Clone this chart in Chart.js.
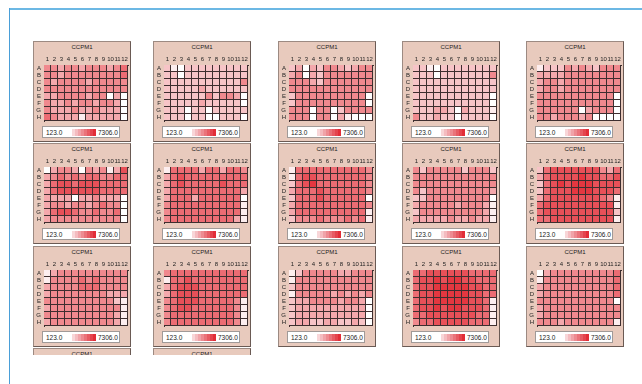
<!DOCTYPE html>
<html>
<head>
<meta charset="utf-8">
<script src="https://cdn.jsdelivr.net/npm/chart.js@4.4.1/dist/chart.umd.min.js"></script>
<style>
  html, body { margin: 0; padding: 0; background: #fff; }
  body { width: 642px; height: 384px; position: relative; overflow: hidden; font-family: 'Liberation Sans', Arial, sans-serif; }
  #frameTop { position: absolute; left: 9px; top: 8px; width: 633px; height: 2px; background: #6cb8e4; }
  #frameLeft { position: absolute; left: 9px; top: 8px; width: 1px; height: 376px; background: #4a9fd8; }
  #wrap { position: absolute; left: 0; top: 0; width: 642px; height: 355px; overflow: hidden; }
  .plate { position: absolute; width: 98px; height: 101px; box-sizing: border-box; background: #e8cabd;
           border: 1px solid #9c8a82; border-right-color: #6a5a54; border-bottom-color: #6a5a54; }
  .ttl { position: absolute; left: 0; right: 0; top: 1px; text-align: center; font-size: 6px; color: #222; line-height: 8px; }
  .plate canvas { position: absolute; left: 1px; top: 12px; }
  .lg { position: absolute; left: 8px; top: 84px; width: 78px; height: 12px; box-sizing: border-box; background: #fff;
        border: 1px solid #a09a98; font-size: 6.5px; color: #222; }
  .lg span { position: absolute; top: 2px; line-height: 7px; }
  .lg .lo { left: 3px; }
  .lg .hi { left: 55px; }
  .lg i { position: absolute; left: 23px; top: 2px; width: 30px; height: 7px;
          background: linear-gradient(to right,
            #ffffff 0 20%, #f8d6d8 20% 30%, #f4bcc0 30% 40%, #f0a3a8 40% 50%, #ed8b91 50% 60%,
            #ea737a 60% 70%, #e75b63 70% 80%, #e4444d 80% 90%, #e22d37 90% 100%); }
</style>
</head>
<body>
<div id="frameTop"></div>
<div id="frameLeft"></div>
<div id="wrap"></div>
<script>
const plateTitle = 'CCPM1';
const colLabels = ['1', '2', '3', '4', '5', '6', '7', '8', '9', '10', '11', '12'];
const rowLabels = ['A', 'B', 'C', 'D', 'E', 'F', 'G', 'H'];
const scaleMin = 123.0;
const scaleMax = 7306.0;

// plate readings, rows A..H, columns 1..12
const plate01 = [
  [3900,3900,2900,3900,3900,2900,3900,3900,3900,2900,3900,4800],
  [3900,3900,2900,3900,3900,3900,3900,3900,3900,3900,3900,4800],
  [3900,2900,3900,3900,3900,3900,2900,3900,3900,3900,3900,3900],
  [3900,3900,3900,3900,3900,3900,3900,3900,3900,3900,3900,3900],
  [2900,2900,3900,3900,3900,3900,2900,3900,3900,123,2900,123],
  [3900,2900,2900,3900,2900,3900,3900,2900,3900,3900,2900,123],
  [3900,2900,2900,2900,3900,2900,2900,3900,2900,2900,2900,123],
  [4800,3900,2900,2900,2900,650,2900,2900,2900,2900,2900,123]
];
const plate02 = [
  [2000,650,123,2000,2000,2000,2000,2000,2000,2000,2000,2000],
  [2000,2000,123,2000,2000,2000,2000,2000,2000,2000,2000,2000],
  [2000,2000,2000,2000,2000,2000,2000,2000,2000,2000,2000,3900],
  [2000,2000,2000,2000,2000,2900,2000,2000,2000,2000,2000,2000],
  [2000,2000,2000,2000,2000,2000,3900,2000,3900,3900,2900,123],
  [2000,2000,2000,2000,2000,2900,2000,2000,2000,2000,2000,123],
  [2000,2000,2000,123,2000,2000,123,2000,2000,2000,2000,2000],
  [2000,2000,2000,123,2000,2000,123,123,2000,2000,2000,123]
];
const plate03 = [
  [2000,2900,123,2900,2000,3900,3900,2900,2000,2900,3900,3900],
  [2900,3900,123,2900,2000,3900,3900,3900,3900,3900,3900,3900],
  [3900,3900,3900,2900,2000,3900,3900,3900,3900,3900,3900,3900],
  [3900,3900,3900,3900,3900,3900,3900,3900,3900,3900,3900,3900],
  [2000,3900,3900,3900,3900,3900,3900,3900,3900,3900,3900,123],
  [2000,3900,3900,3900,3900,3900,3900,3900,3900,3900,3900,123],
  [3900,3900,3900,123,3900,3900,123,2000,3900,3900,3900,3900],
  [3900,3900,3900,123,3900,3900,123,2900,650,123,123,123]
];
const plate04 = [
  [2000,2000,650,123,2000,2000,2000,2000,2000,2000,2000,2000],
  [2000,2000,2000,123,2000,2000,2000,2000,2000,2000,2000,3900],
  [2000,2000,2000,2000,2000,2000,2000,2000,2000,2000,2000,2000],
  [2000,2000,2000,2000,2000,2000,2000,2000,2000,2000,2000,2000],
  [2000,2000,2000,2000,2000,2000,2000,2000,2000,2000,2000,123],
  [2000,2000,2000,2000,2000,2000,2000,2000,2000,2000,2000,123],
  [2000,2000,2000,2900,2900,2000,123,2900,2000,2000,2000,650],
  [3900,2000,2000,2900,2000,2000,123,2000,2000,2000,2000,123]
];
const plate05 = [
  [650,2000,2000,2000,3900,2900,3900,2900,2000,3900,3900,3900],
  [2900,2900,2900,2900,3900,3900,3900,3900,3900,3900,3900,3900],
  [2900,3900,3900,2900,3900,3900,3900,3900,3900,3900,3900,3900],
  [2900,3900,3900,2900,3900,3900,3900,3900,3900,3900,3900,3900],
  [3900,3900,3900,3900,3900,3900,3900,3900,3900,3900,3900,123],
  [3900,3900,3900,3900,3900,3900,3900,3900,3900,3900,3900,123],
  [3900,3900,3900,3900,3900,3900,123,2900,3900,3900,3900,123],
  [3900,3900,2900,3900,3900,3900,2900,3900,123,123,123,123]
];
const plate06 = [
  [123,2900,3900,3900,2900,123,3900,2900,3900,650,2900,5700],
  [2900,3900,4800,3900,4800,3900,4800,4800,3900,3900,4800,4800],
  [2900,4800,5700,5700,4800,5700,5700,5700,4800,4800,4800,4800],
  [2900,4800,5700,5700,5700,5700,5700,5700,4800,4800,4800,4800],
  [2900,2900,2900,2900,123,2900,2900,3900,2900,2900,2900,123],
  [2900,3900,3900,2900,3900,3900,2900,3900,4800,3900,3900,123],
  [2900,4800,5700,5700,4800,3900,3900,4800,3900,3900,4800,123],
  [2900,3900,3900,3900,3900,3900,3900,3900,3900,3900,3900,123]
];
const plate07 = [
  [650,4800,4800,4800,4800,2900,4800,4800,2900,4800,4800,3900],
  [2900,4800,5700,4800,4800,4800,4800,4800,4800,4800,4800,4800],
  [2900,4800,5700,4800,4800,4800,4800,4800,5700,4800,4800,4800],
  [2900,4800,4800,4800,4800,4800,4800,4800,4800,4800,4800,2900],
  [2900,4800,4800,4800,2900,4800,4800,4800,4800,4800,4800,123],
  [3900,4800,4800,4800,4800,4800,4800,4800,4800,4800,4800,650],
  [3900,4800,4800,4800,4800,4800,4800,4800,4800,4800,4800,650],
  [3900,4800,4800,4800,4800,4800,4800,4800,4800,4800,2900,650]
];
const plate08 = [
  [650,4800,4800,4800,4800,4800,4800,4800,4800,4800,4800,3900],
  [650,4800,5700,5700,4800,4800,4800,4800,4800,4800,4800,3900],
  [2000,4800,5700,6500,4800,4800,4800,4800,4800,4800,4800,3900],
  [2900,4800,4800,4800,5700,4800,4800,4800,4800,4800,4800,3900],
  [2000,4800,4800,4800,5700,4800,4800,4800,4800,4800,4800,123],
  [2900,4800,4800,4800,4800,4800,4800,4800,4800,4800,4800,3900],
  [2900,4800,4800,4800,4800,4800,4800,4800,4800,4800,4800,650],
  [2000,3900,3900,3900,4800,3900,3900,3900,4800,3900,4800,650]
];
const plate09 = [
  [3900,2000,3900,3900,3900,3900,3900,2000,3900,3900,3900,2000],
  [3900,3900,3900,3900,3900,3900,3900,3900,3900,3900,3900,3900],
  [3900,3900,3900,3900,3900,3900,3900,3900,3900,3900,3900,3900],
  [3900,2000,3900,3900,3900,3900,3900,3900,3900,3900,3900,2900],
  [2000,2000,3900,3900,3900,3900,3900,3900,3900,3900,3900,123],
  [2900,3900,3900,3900,3900,3900,2900,3900,3900,3900,2900,650],
  [2000,3900,3900,3900,3900,3900,3900,3900,3900,3900,2900,650],
  [2900,2900,2900,2900,2900,3900,2900,2900,3900,2900,2900,650]
];
const plate10 = [
  [2000,4800,5700,5700,5700,5700,5700,5700,5700,3900,2900,4800],
  [2900,4800,5700,5700,5700,5700,6500,5700,5700,4800,4800,5700],
  [2000,4800,5700,6500,5700,6500,6500,6500,5700,5700,5700,5700],
  [2000,4800,5700,5700,5700,6500,6500,6500,5700,5700,5700,4800],
  [2900,4800,5700,5700,5700,5700,5700,5700,5700,4800,3900,650],
  [4800,5700,5700,5700,5700,5700,5700,5700,5700,5700,5700,650],
  [4800,5700,5700,5700,5700,5700,5700,5700,5700,5700,5700,2000],
  [4800,4800,5700,5700,5700,5700,5700,5700,5700,5700,5700,650]
];
const plate11 = [
  [650,2900,3900,3900,3900,3900,3900,3900,3900,3900,3900,3900],
  [650,3900,3900,3900,3900,4800,3900,4800,3900,3900,3900,3900],
  [2900,3900,3900,3900,3900,4800,4800,4800,3900,3900,3900,3900],
  [2900,3900,3900,3900,3900,3900,3900,3900,3900,2900,2900,2900],
  [3900,3900,3900,3900,3900,3900,3900,3900,3900,3900,2000,650],
  [2900,3900,3900,3900,3900,3900,3900,3900,3900,3900,3900,650],
  [3900,3900,3900,3900,3900,3900,3900,3900,3900,3900,2900,650],
  [2900,3900,3900,3900,3900,3900,3900,3900,3900,3900,2900,650]
];
const plate12 = [
  [3900,4800,4800,4800,4800,4800,4800,4800,4800,4800,4800,4800],
  [650,4800,4800,5700,4800,4800,4800,4800,4800,4800,4800,4800],
  [2900,4800,5700,5700,5700,4800,4800,4800,4800,4800,4800,4800],
  [2900,4800,5700,5700,5700,4800,4800,4800,4800,4800,4800,4800],
  [3900,4800,5700,5700,5700,4800,4800,4800,4800,4800,3900,650],
  [3900,4800,5700,5700,4800,4800,4800,4800,4800,4800,3900,650],
  [3900,4800,4800,4800,4800,4800,4800,4800,4800,4800,3900,650],
  [3900,4800,4800,4800,4800,4800,4800,4800,4800,4800,3900,650]
];
const plate13 = [
  [650,2000,3900,3900,3900,3900,3900,2900,2900,3900,3900,3900],
  [650,3900,3900,3900,3900,3900,3900,3900,3900,3900,3900,3900],
  [2000,3900,3900,3900,3900,3900,3900,3900,3900,3900,3900,3900],
  [650,3900,3900,3900,3900,3900,2900,3900,2900,3900,2900,3900],
  [2000,2900,2900,3900,3900,3900,3900,2900,3900,3900,2900,123],
  [2000,2900,2900,2900,2900,2900,2900,2900,2900,2900,2900,123],
  [2000,2900,2900,2900,2900,2900,2900,2900,2900,2900,2900,123],
  [2000,2900,2900,2000,2000,2900,2900,2000,2000,2900,2000,123]
];
const plate14 = [
  [4800,4800,5700,5700,5700,5700,5700,5700,4800,4800,4800,4800],
  [4800,5700,5700,6500,5700,6500,6500,5700,5700,4800,4800,4800],
  [4800,5700,5700,6500,6500,6500,6500,6500,5700,5700,4800,4800],
  [4800,5700,5700,6500,6500,6500,6500,6500,5700,5700,4800,4800],
  [4800,5700,5700,6500,6500,6500,6500,6500,5700,5700,4800,650],
  [4800,5700,5700,6500,5700,6500,6500,5700,5700,5700,4800,650],
  [4800,4800,5700,5700,5700,5700,5700,5700,5700,4800,4800,650],
  [3900,4800,4800,5700,5700,5700,5700,5700,4800,4800,4800,650]
];
const plate15 = [
  [123,2900,3900,3900,3900,3900,3900,3900,3900,3900,3900,4800],
  [650,3900,3900,3900,3900,3900,3900,3900,3900,3900,3900,4800],
  [2900,3900,3900,3900,3900,3900,3900,3900,3900,3900,3900,4800],
  [2900,3900,3900,3900,3900,3900,3900,3900,3900,3900,3900,4800],
  [3900,3900,3900,3900,3900,3900,3900,3900,3900,3900,3900,123],
  [2900,3900,3900,3900,3900,3900,3900,3900,3900,3900,3900,3900],
  [2900,3900,3900,3900,3900,3900,3900,3900,3900,3900,3900,3900],
  [3900,3900,3900,2900,3900,3900,3900,3900,3900,3900,3900,650]
];

const plates = [plate01, plate02, plate03, plate04, plate05,
                plate06, plate07, plate08, plate09, plate10,
                plate11, plate12, plate13, plate14, plate15];

// page layout of the plate panels
const panelLeft = [33, 153, 278, 402, 526];
const panelTop = [41, 143, 246, 348];
const lineColor = '#3e2e2f';
const fontFamily = "'Liberation Sans', Arial, sans-serif";

function cellColor(v) {
  const t = Math.max(0, Math.min(1, (v - scaleMin) / (scaleMax - scaleMin)));
  const r = Math.round(255 + (226 - 255) * t);
  const g = Math.round(255 + (30 - 255) * t);
  const b = Math.round(255 + (40 - 255) * t);
  return 'rgb(' + r + ',' + g + ',' + b + ')';
}

// fixed axis sizes, and no extra padding for the first/last tick labels
function fitAxis(size) {
  return s => {
    if (s.isHorizontal()) s.height = size; else s.width = size;
    s.paddingTop = 0; s.paddingBottom = 0; s.paddingLeft = 0; s.paddingRight = 0;
  };
}

function makePanel(col, row) {
  const div = document.createElement('div');
  div.className = 'plate';
  div.style.left = panelLeft[col] + 'px';
  div.style.top = panelTop[row] + 'px';
  const ttl = document.createElement('div');
  ttl.className = 'ttl';
  ttl.textContent = plateTitle;
  div.appendChild(ttl);
  document.getElementById('wrap').appendChild(div);
  return div;
}

function drawPlate(values, col, row) {
  const div = makePanel(col, row);
  const canvas = document.createElement('canvas');
  canvas.width = 94;
  canvas.height = 68;
  div.appendChild(canvas);

  const lg = document.createElement('div');
  lg.className = 'lg';
  lg.innerHTML = '<span class="lo">' + scaleMin.toFixed(1) + '</span><i></i><span class="hi">' + scaleMax.toFixed(1) + '</span>';
  div.appendChild(lg);

  new Chart(canvas, {
    type: 'bar',
    data: {
      labels: colLabels,
      datasets: rowLabels.map((r, ri) => ({
        label: r,
        data: colLabels.map(() => 1),
        backgroundColor: values[ri].map(cellColor),
        borderColor: lineColor,
        borderWidth: { top: 0, left: 0, right: 1, bottom: 1 },
        borderSkipped: false,
        inflateAmount: 0,
        barPercentage: 1,
        categoryPercentage: 1,
        stack: 'plate'
      }))
    },
    options: {
      responsive: false,
      animation: false,
      events: [],
      layout: { padding: { right: 1, bottom: 1 } },
      plugins: { legend: { display: false }, tooltip: { enabled: false } },
      scales: {
        x: {
          position: 'top',
          stacked: true,
          grid: { display: false, drawTicks: false },
          border: { color: lineColor, width: 1 },
          ticks: { font: { size: 6, family: fontFamily }, color: '#222', padding: 2, autoSkip: false, maxRotation: 0 },
          afterFit: fitAxis(11)
        },
        y: { stacked: true, reverse: true, min: 0, max: 8, display: false },
        rows: {
          type: 'category',
          labels: rowLabels,
          position: 'left',
          offset: true,
          grid: { display: false, drawTicks: false },
          border: { color: lineColor, width: 1 },
          ticks: { font: { size: 6, family: fontFamily }, color: '#222', padding: 3, autoSkip: false },
          afterFit: fitAxis(9)
        }
      }
    }
  });
}

plates.forEach((p, i) => drawPlate(p, i % 5, Math.floor(i / 5)));
// fourth row, only the tops of the first two panels are in view
makePanel(0, 3);
makePanel(1, 3);
</script>
</body>
</html>
